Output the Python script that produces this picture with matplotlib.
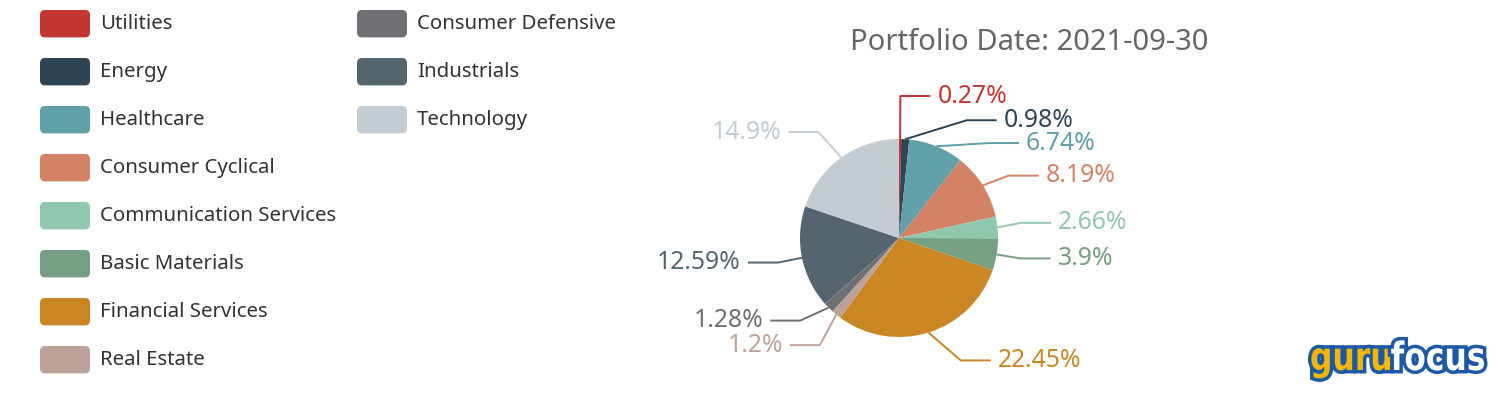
import numpy as np
import matplotlib
matplotlib.use('Agg')
import matplotlib.pyplot as plt
from matplotlib.patches import FancyBboxPatch, PathPatch
from matplotlib.textpath import TextPath
from matplotlib.font_manager import FontProperties
from matplotlib.transforms import Affine2D
import matplotlib.patheffects as pe

sectors = ['Utilities', 'Energy', 'Healthcare', 'Consumer Cyclical', 'Communication Services',
           'Basic Materials', 'Financial Services', 'Real Estate', 'Consumer Defensive',
           'Industrials', 'Technology']
weights = [0.27, 0.98, 6.74, 8.19, 2.66, 3.9, 22.45, 1.2, 1.28, 12.59, 14.9]
colors = ['#c23531', '#2f4554', '#61a0a8', '#d48265', '#91c7ae', '#749f83',
          '#ca8622', '#bda29a', '#6e7074', '#546570', '#c4ccd3']
title = 'Portfolio Date: 2021-09-30'

# nudges for the labels (px, + is down) so the small slices don't collide
label_shift = [-19, 5, 19, 3, -2, 0, 5, 12, -4, 0, -6]

W, H = 1498, 396
plt.rcParams['font.family'] = ['Noto Sans', 'DejaVu Sans']
fig = plt.figure(figsize=(W / 100, H / 100), dpi=100)
ax = fig.add_axes([0, 0, 1, 1])

cx, cy, r = 899, H - 238, 99
len1, len2 = 24, 30
wedges, _ = ax.pie(weights, colors=colors, startangle=90, counterclock=False,
                   center=(cx, cy), radius=r, wedgeprops=dict(linewidth=0))
ax.set_xlim(0, W)
ax.set_ylim(0, H)
ax.set_aspect('auto')
ax.axis('off')

# leader lines + percent labels
for w, val, c, shift in zip(wedges, weights, colors, label_shift):
    mid = np.deg2rad((w.theta1 + w.theta2) / 2)
    ex, ey = cx + r * np.cos(mid), cy + r * np.sin(mid)
    side = 1 if np.cos(mid) >= 0 else -1
    ly = cy + (r + len1) * np.sin(mid) - shift
    dy = abs(ly - cy)
    if dy < r + len1:
        tx = cx + side * np.sqrt((r + len1 + len2) ** 2 - dy ** 2)
        kx = tx - side * len2
    else:
        kx = cx + (r + len1) * np.cos(mid)
        tx = kx + side * len2
    ax.plot([ex, kx, tx], [ey, ly, ly], color=c, lw=1.4, solid_capstyle='butt')
    ax.text(tx + side * 7, ly - 6.6, f'{val}%', color=c, fontsize=17.8,
            ha='left' if side > 0 else 'right', va='baseline')

ax.text(1029.5, H - 50.5, title, ha='center', va='baseline', fontsize=21, color='#666666')

# legend, two columns of 8
for i, (name, c) in enumerate(zip(sectors, colors)):
    col, row = divmod(i, 8)
    x0 = 40 + col * 317
    yc = H - (23.7 + row * 48)
    ax.add_patch(FancyBboxPatch((x0, yc - 13.7), 50, 27.4,
                                boxstyle='round,pad=0,rounding_size=5', fc=c, ec='none'))
    ax.text(x0 + 60, yc - 5.6, name, fontsize=14.7, color='#333333', va='baseline')

# gurufocus logo, squeezed into its box
prop = FontProperties(family='DejaVu Sans', weight='bold')
p1 = TextPath((0, 0), 'guru', size=1, prop=prop)
p2 = TextPath((0, 0), 'focus', size=1, prop=prop)
w1 = p1.get_extents().x1
total = w1 + 0.02 + p2.get_extents().x1
sx = 174 / total
sy = 39
x0, base = 1310, H - 370
stroke = [pe.withStroke(linewidth=5, foreground='#1c5aa6')]
for path, dx, fc in [(p1, 0, '#f7b500'), (p2, w1 + 0.02, 'white')]:
    tr = Affine2D().translate(dx, 0).scale(sx, sy).translate(x0, base)
    ax.add_patch(PathPatch(tr.transform_path(path), fc=fc, ec='none', path_effects=stroke))

fig.savefig('out.png', dpi=100)
